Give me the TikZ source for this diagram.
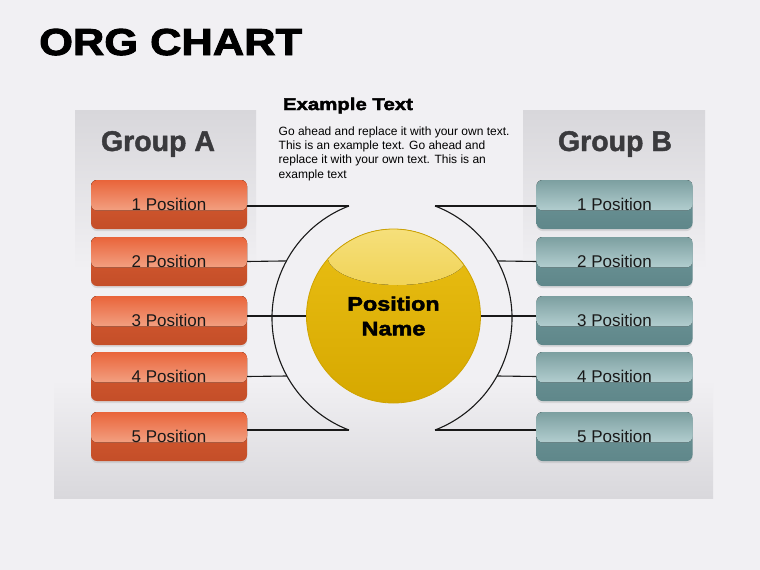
\documentclass[tikz,border=0pt]{standalone}
\usepackage{fontspec}
\setmainfont{Liberation Sans}
\newfontfamily\blackfont[BoldFeatures={FakeBold=2.5,FakeStretch=1.2}]{Liberation Sans}
\newfontfamily\groupfont[BoldFeatures={FakeBold=1.5}]{Liberation Sans}
\usetikzlibrary{calc,shadows}
\definecolor{bgcol}{HTML}{F1F0F3}
\definecolor{panelbot}{HTML}{D9D8DC}
\definecolor{colgray}{HTML}{D8D7DB}
\definecolor{redtop}{HTML}{E9643A}
\definecolor{redmid}{HTML}{F8C4AC}
\definecolor{redlow}{HTML}{D85C32}
\definecolor{redbot}{HTML}{C44E28}
\definecolor{tealtop}{HTML}{7C9FA0}
\definecolor{tealmid}{HTML}{D3EAEC}
\definecolor{teallow}{HTML}{6F9699}
\definecolor{tealbot}{HTML}{5F878A}
\definecolor{goldhi}{HTML}{F6E07C}
\definecolor{goldtop}{HTML}{EABF14}
\definecolor{goldbot}{HTML}{D6A800}
\definecolor{goldrim}{HTML}{CFA300}
\definecolor{grouptxt}{HTML}{3A3A3D}
\tikzset{
  posbox/.style n args={4}{rounded corners=6pt, minimum width=156pt,
    minimum height=49pt, inner sep=0pt, top color=#3, bottom color=#4,
    drop shadow={opacity=0.2, shadow xshift=0pt, shadow yshift=-2pt},
    font=\fontsize{17}{17}\selectfont, text=black!90,
    path picture={\fill[top color=#1, bottom color=#2]
      (path picture bounding box.north west) rectangle
      ($(path picture bounding box.south east)!0.38!(path picture bounding box.north east)$);}},
  redpos/.style={posbox={redtop}{redmid}{redlow}{redbot}},
  tealpos/.style={posbox={tealtop}{tealmid}{teallow}{tealbot}},
  conn/.style={draw=black!90, line width=1.1pt},
  grouplbl/.style={anchor=base, inner sep=0pt, text=grouptxt,
    font=\groupfont\bfseries\fontsize{28.5}{28.5}\selectfont}
}
\begin{document}
\begin{tikzpicture}[x=1pt, y=1pt]
    \def\ax{169}
    \def\bx{614.5}
    % background and panel
    \fill[bgcol] (0,0) rectangle (760,-570);
    \useasboundingbox (0,0) rectangle (760,-570);
    \fill[top color=bgcol, bottom color=panelbot] (54,-380) rectangle (713,-498);
    \fill[top color=colgray, bottom color=bgcol] (75,-110) rectangle (256,-270);
    \fill[top color=colgray, bottom color=bgcol] (523,-110) rectangle (705,-270);
    % titles
    \node (title) [anchor=base west, inner sep=0pt, xscale=0.965, transform shape,
      font=\blackfont\bfseries\fontsize{37.5}{37.5}\selectfont] at (39,-55) {ORG CHART};
    \node (ga) [grouplbl] at (158,-151) {Group A};
    \node (gb) [grouplbl] at (615,-151) {Group B};
    \node (ex) [anchor=base west, inner sep=0pt, font=\blackfont\bfseries\fontsize{17}{17}\selectfont] at (282.7,-110) {Example Text};
    \node (body) [anchor=north west, inner sep=0pt, align=left, font=\fontsize{12}{14.3}\selectfont] at (278.5,-126.3)
      {Go ahead and replace it with your own text.\\ This is an example text. Go ahead and\\ replace it with your own text. This is an\\ example text};
    % positions
    \node (A_1) [redpos] at (\ax,-204.5) {1 Position};
    \node (A_2) [redpos] at (\ax,-261.5) {2 Position};
    \node (A_3) [redpos] at (\ax,-320.5) {3 Position};
    \node (A_4) [redpos] at (\ax,-376.5) {4 Position};
    \node (A_5) [redpos] at (\ax,-436.5) {5 Position};
    \node (B_1) [tealpos] at (\bx,-204.5) {1 Position};
    \node (B_2) [tealpos] at (\bx,-261.5) {2 Position};
    \node (B_3) [tealpos] at (\bx,-320.5) {3 Position};
    \node (B_4) [tealpos] at (\bx,-376.5) {4 Position};
    \node (B_5) [tealpos] at (\bx,-436.5) {5 Position};
    % centre
    \node (ball) [circle, minimum size=174pt, inner sep=0pt, top color=goldtop, bottom color=goldbot,
      draw=goldrim, line width=0.8pt, align=center,
      font=\blackfont\bfseries\fontsize{19.5}{24.7}\selectfont,
      path picture={\fill[top color=goldhi, bottom color=goldtop!75!goldbot]
        ($(path picture bounding box.center)+(4,60)$) ellipse [x radius=70pt, y radius=29pt];}]
      at (393.5,-316) {Position\\Name};
    \coordinate (ctr) at (392,-318);
    \path (ctr) ++(111:120pt) coordinate (ea1) (ctr) ++(249:120pt) coordinate (ea5);
    \path (ctr) ++(151.6:120pt) coordinate (pa2) (ctr) ++(208.9:120pt) coordinate (pa4);
    \path (ctr) ++(69:120pt) coordinate (eb1) (ctr) ++(-69:120pt) coordinate (eb5);
    \path (ctr) ++(28.4:120pt) coordinate (pb2) (ctr) ++(-28.9:120pt) coordinate (pb4);
    % brackets and links
    \draw[conn] (ea1) arc [start angle=111, end angle=249, radius=120pt];
    \draw[conn] (eb1) arc [start angle=69, end angle=-69, radius=120pt];
    \draw[conn] (A_1.east |- ea1) -- (ea1);
    \draw[conn] (A_2.east) -- (pa2);
    \draw[conn] (A_3.east |- ball.west) -- (ball.west);
    \draw[conn] (A_4.east) -- (pa4);
    \draw[conn] (A_5.east |- ea5) -- (ea5);
    \draw[conn] (B_1.west |- eb1) -- (eb1);
    \draw[conn] (B_2.west) -- (pb2);
    \draw[conn] (B_3.west |- ball.east) -- (ball.east);
    \draw[conn] (B_4.west) -- (pb4);
    \draw[conn] (B_5.west |- eb5) -- (eb5);
\end{tikzpicture}
\end{document}
